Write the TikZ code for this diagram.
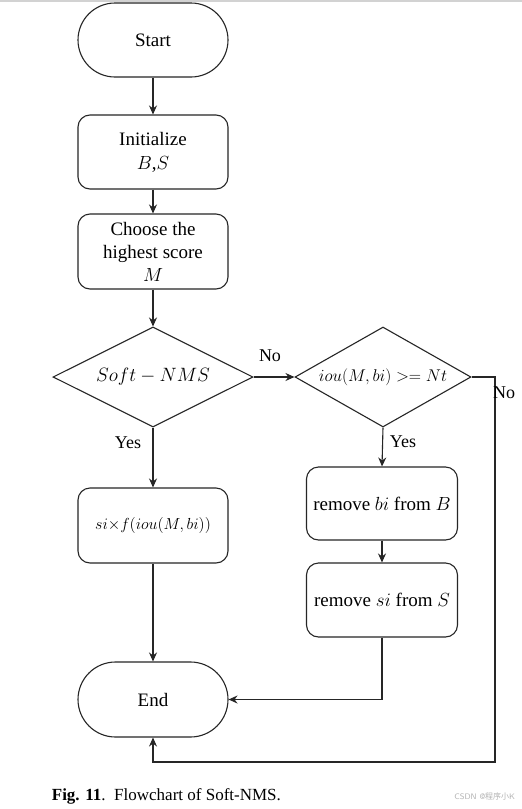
\RequirePackage{fix-cm}
\documentclass[tikz,border=0pt]{standalone}
\usepackage{fontspec}
\setmainfont{Liberation Serif}
\newfontfamily\cjkfont{Noto Sans CJK SC}
\usetikzlibrary{shapes.geometric,arrows.meta}
\begin{document}
\begin{tikzpicture}[x=1pt,y=-1pt,
  line width=1.1pt,
  every node/.style={font=\fontsize{19}{21}\selectfont},
  term/.style={draw=black!85,rectangle,rounded corners=37pt,minimum width=150pt,minimum height=74pt,inner sep=0pt},
  proc/.style={draw=black!85,rectangle,rounded corners=12pt,minimum width=150pt,minimum height=74pt,inner sep=0pt,align=center},
  decision/.style={draw=black!85,diamond,aspect=2,inner sep=0pt},
  conn/.style={draw=black!85,-{Stealth[length=9pt,width=8pt]}},
  lbl/.style={font=\fontsize{18}{20}\selectfont}
]
\useasboundingbox (0,0) rectangle (522,809);
\fill[white] (0,0) rectangle (522,809);
\draw[gray!35,line width=1.5pt] (0,1) -- (522,1);

\node[term] (start) at (153,40) {Start};
\node[proc] (init) at (153,152) {Initialize\\[3pt]$B$,$S$};
\node[proc,minimum height=75pt] (choose) at (153,251.5) {Choose the\\[2pt]highest score\\[2pt]$M$};
\node[decision,minimum width=200pt,minimum height=100pt,font=\fontsize{19.3}{22}\selectfont] (soft) at (153,377) {$Soft-NMS$};
\node[decision,minimum width=176pt,minimum height=100pt,font=\fontsize{17}{19}\selectfont] (iou) at (383,377) {$iou(M,bi)>=Nt$};
\node[proc,minimum height=75pt,font=\fontsize{16}{18}\selectfont] (si) at (153,525.5) {$si{\times}f(iou(M,bi))$};
\node[proc,minimum width=151pt,minimum height=73pt] (rbi) at (382,503.5) {remove $bi$ from $B$};
\node[proc,minimum width=151pt,minimum height=74pt] (rsi) at (382,600) {remove $si$ from $S$};
\node[term,minimum height=75pt,rounded corners=37.5pt] (end) at (153,699.5) {End};

\coordinate (r1) at (495,377);
\coordinate (r2) at (495,762);
\coordinate (r3) at (153,762);

\draw[conn] (start) -- (init);
\draw[conn] (init) -- (choose);
\draw[conn] (choose) -- (soft);
\draw[conn] (soft.east) -- (iou.west);
\draw[conn] (soft.south) -- (si.north);
\draw[conn] (iou.south) -- (rbi.north);
\draw[conn] (rbi) -- (rsi);
\draw[conn] (si.south) -- (end.north);
\draw[conn] (rsi.south) |- (end.east);
\draw[conn] (iou.east) -- (r1) -- (r2) -- (r3) -- (end.south);

\node[lbl] (no1) at (270,356) {No};
\node[lbl] (yes1) at (128,443) {Yes};
\node[lbl] (yes2) at (403,442) {Yes};
\node[lbl] (no2) at (504,393) {No};

\node[anchor=west,font=\fontsize{17}{19}\selectfont] (cap) at (48,796) {\textbf{Fig. 11}.\ \ Flowchart of Soft-NMS.};
\node[anchor=east,text=gray!60,font=\fontsize{8}{10}\selectfont\sffamily] (wm) at (519,796) {CSDN @{\cjkfont 程序小}K};
\end{tikzpicture}
\end{document}
